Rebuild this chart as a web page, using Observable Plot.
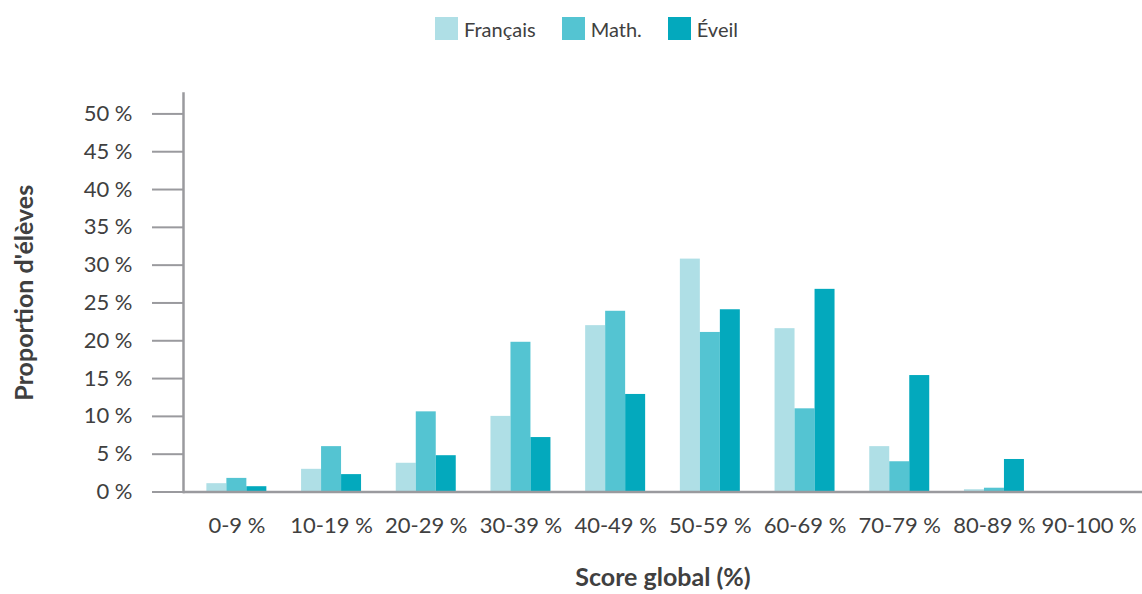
<!DOCTYPE html>
<html>
<head>
<meta charset="utf-8">
<script src="https://cdn.jsdelivr.net/npm/d3@7"></script>
<script src="https://cdn.jsdelivr.net/npm/@observablehq/plot@0.6"></script>
<style>
  body { margin: 0; background: #fff; font-family: Lato, sans-serif; color: #404040; }
  #legend { height: 60px; position: relative; display: flex; padding-left: 435px; box-sizing: border-box; }
  .item { margin-top: 17px; display: flex; align-items: center; height: 23px; font-size: 20px; margin-right: 26px; }
  .sw { width: 23px; height: 23px; margin-right: 6px; }
</style>
</head>
<body>
<div id="legend"></div>
<div id="chart"></div>
<script>
const categories = ["0-9 %", "10-19 %", "20-29 %", "30-39 %", "40-49 %", "50-59 %", "60-69 %", "70-79 %", "80-89 %", "90-100 %"];
const francais = [1.1, 3.0, 3.8, 10.0, 22.0, 30.8, 21.6, 6.0, 0.3, 0];
const math     = [1.8, 6.0, 10.6, 19.8, 23.9, 21.1, 11.0, 4.0, 0.5, 0];
const eveil    = [0.7, 2.3, 4.8, 7.2, 12.9, 24.1, 26.8, 15.4, 4.3, 0];
const series = ["Français", "Math.", "Éveil"];
const colors = ["#afdfe6", "#54c4d2", "#03a9bd"];
const yTicks = [0, 5, 10, 15, 20, 25, 30, 35, 40, 45, 50];

// legend
const legend = document.getElementById("legend");
series.forEach((s, i) => {
  const it = document.createElement("div");
  it.className = "item";
  const sw = document.createElement("div");
  sw.className = "sw";
  sw.style.background = colors[i];
  const t = document.createElement("span");
  t.textContent = s;
  it.appendChild(sw); it.appendChild(t);
  legend.appendChild(it);
});

const seriesValues = [francais, math, eveil];
const offsets = [-20, 0, 20];
const axisColor = "#9a9a9e";

const chart = Plot.plot({
  width: 1142,
  height: 534,
  marginLeft: 183,
  marginRight: 0,
  marginTop: 33,
  marginBottom: 102.5,
  x: { domain: categories, paddingInner: 0.789, paddingOuter: 0.458, round: false },
  y: { domain: [0, 52.7] },
  style: { fontFamily: "Lato, sans-serif", color: "#404040", background: "#fff" },
  marks: [
    ...seriesValues.map((vals, k) =>
      Plot.barY(vals.map((v, i) => ({ cat: categories[i], v, s: series[k] })), {
        x: "cat", y: "v", fill: colors[k], dx: offsets[k]
      })
    ),
    Plot.axisY({ ticks: yTicks, tickFormat: d => d + " %", tickSize: 31, tickPadding: 20,
      stroke: axisColor, strokeWidth: 2, fontSize: 22, label: null }),
    Plot.axisY({ ticks: [], label: "Proportion d'élèves", labelAnchor: "center", labelArrow: "none",
      labelOffset: 168, fontSize: 25, fontWeight: "bold" }),
    Plot.axisX({ tickSize: 0, tickPadding: 25, fontSize: 22, label: null }),
    Plot.axisX({ ticks: [], label: "Score global (%)", labelAnchor: "center", labelArrow: "none",
      labelOffset: 94, fontSize: 25, fontWeight: "bold", dx: -5 }),
    Plot.frame({ anchor: "left", stroke: axisColor, strokeWidth: 2.5 }),
    Plot.ruleY([0], { stroke: axisColor, strokeWidth: 2.5 })
  ]
});
document.getElementById("chart").appendChild(chart);
</script>
</body>
</html>
